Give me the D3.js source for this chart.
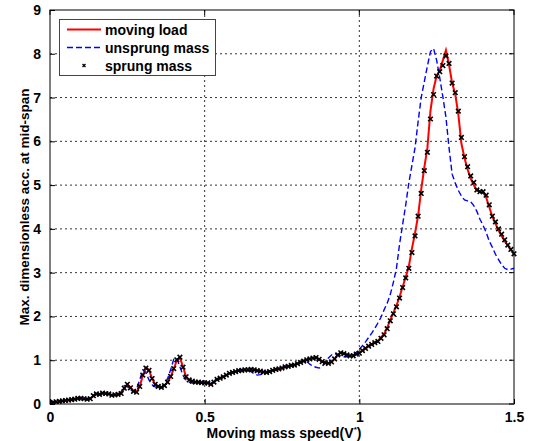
<!DOCTYPE html>
<html>
<head>
<meta charset="utf-8">
<script src="https://cdn.jsdelivr.net/npm/d3@7"></script>
<style>
  html, body { margin: 0; padding: 0; background: #fff; }
  svg { display: block; font-family: "Liberation Sans", Arial, sans-serif; }
</style>
</head>
<body>
<svg id="chart" width="541" height="441"></svg>
<script>
// ---- data ----
const speed = [
  0.00,0.01,0.02,0.03,0.04,0.05,0.06,0.07,0.08,0.09,
  0.10,0.11,0.12,0.13,0.14,0.15,0.16,0.17,0.18,0.19,
  0.20,0.21,0.22,0.23,0.24,0.25,0.26,0.27,0.28,0.29,
  0.30,0.31,0.32,0.33,0.34,0.35,0.36,0.37,0.38,0.39,
  0.40,0.41,0.42,0.43,0.44,0.45,0.46,0.47,0.48,0.49,
  0.50,0.51,0.52,0.53,0.54,0.55,0.56,0.57,0.58,0.59,
  0.60,0.61,0.62,0.63,0.64,0.65,0.66,0.67,0.68,0.69,
  0.70,0.71,0.72,0.73,0.74,0.75,0.76,0.77,0.78,0.79,
  0.80,0.81,0.82,0.83,0.84,0.85,0.86,0.87,0.88,0.89,
  0.90,0.91,0.92,0.93,0.94,0.95,0.96,0.97,0.98,0.99,
  1.00,1.01,1.02,1.03,1.04,1.05,1.06,1.07,1.08,1.09,
  1.10,1.11,1.12,1.13,1.14,1.15,1.16,1.17,1.18,1.19,
  1.20,1.21,1.22,1.23,1.24,1.25,1.26,1.27,1.28,1.29,
  1.30,1.31,1.32,1.33,1.34,1.35,1.36,1.37,1.38,1.39,
  1.40,1.41,1.42,1.43,1.44,1.45,1.46,1.47,1.48,1.49,
  1.50
];

const movingLoad = [
  0.03,0.04,0.05,0.06,0.07,0.08,0.09,0.10,0.11,0.13,
  0.13,0.12,0.11,0.12,0.18,0.23,0.22,0.25,0.24,0.23,
  0.20,0.21,0.22,0.24,0.35,0.45,0.38,0.30,0.28,0.40,
  0.65,0.83,0.78,0.58,0.45,0.40,0.38,0.42,0.50,0.62,
  0.80,1.00,1.06,0.85,0.62,0.55,0.52,0.50,0.50,0.49,
  0.48,0.48,0.45,0.50,0.56,0.59,0.62,0.66,0.70,0.72,
  0.74,0.76,0.77,0.78,0.78,0.79,0.78,0.76,0.75,0.73,
  0.72,0.74,0.77,0.79,0.80,0.82,0.85,0.86,0.88,0.89,
  0.92,0.95,0.98,1.01,1.03,1.05,1.06,1.02,0.97,0.94,
  0.93,0.96,1.03,1.12,1.17,1.15,1.12,1.10,1.10,1.14,
  1.17,1.22,1.28,1.33,1.37,1.40,1.44,1.52,1.60,1.74,
  1.92,2.08,2.25,2.45,2.68,2.90,3.14,3.55,3.90,4.30,
  4.90,5.40,5.85,6.70,7.20,7.50,7.62,7.85,8.08,7.75,
  7.33,7.08,6.62,5.95,5.62,5.36,5.15,5.00,4.88,4.85,
  4.83,4.72,4.50,4.28,4.12,3.97,3.84,3.72,3.62,3.52,
  3.42
];

const unsprungMass = [
  0.03,0.04,0.05,0.06,0.07,0.08,0.09,0.10,0.11,0.12,
  0.14,0.12,0.11,0.14,0.20,0.24,0.22,0.24,0.24,0.22,
  0.20,0.21,0.22,0.28,0.42,0.40,0.32,0.28,0.35,0.55,
  0.78,0.72,0.55,0.44,0.39,0.37,0.38,0.45,0.58,0.78,
  1.02,1.05,0.85,0.65,0.55,0.50,0.48,0.47,0.48,0.48,
  0.48,0.47,0.47,0.53,0.58,0.61,0.63,0.66,0.69,0.72,
  0.74,0.75,0.76,0.77,0.77,0.74,0.69,0.66,0.67,0.71,
  0.74,0.76,0.77,0.78,0.80,0.83,0.86,0.88,0.89,0.90,
  0.93,0.97,1.00,0.97,0.91,0.86,0.84,0.82,0.86,0.95,
  1.05,1.12,1.15,1.13,1.10,1.08,1.08,1.09,1.12,1.18,
  1.25,1.33,1.42,1.52,1.62,1.73,1.85,1.98,2.15,2.30,
  2.50,2.78,3.10,3.65,4.10,4.55,5.05,5.45,5.85,6.45,
  7.00,7.36,7.72,8.05,8.12,7.85,7.45,7.02,6.55,5.85,
  5.25,5.05,4.88,4.75,4.66,4.64,4.62,4.53,4.40,4.22,
  4.08,3.92,3.72,3.58,3.42,3.30,3.18,3.10,3.07,3.08,
  3.10
];

const sprungMass = [
  0.03,0.04,0.05,0.06,0.07,0.08,0.09,0.10,0.11,0.13,
  0.13,0.12,0.11,0.12,0.19,0.23,0.22,0.25,0.24,0.23,
  0.20,0.21,0.22,0.24,0.36,0.45,0.37,0.29,0.27,0.40,
  0.66,0.82,0.77,0.58,0.45,0.40,0.38,0.42,0.50,0.63,
  0.81,1.01,1.07,0.84,0.62,0.55,0.52,0.50,0.50,0.49,
  0.48,0.48,0.45,0.50,0.56,0.59,0.62,0.66,0.70,0.72,
  0.74,0.76,0.77,0.78,0.78,0.79,0.78,0.76,0.75,0.73,
  0.72,0.74,0.77,0.79,0.80,0.82,0.85,0.86,0.88,0.89,
  0.92,0.95,0.98,1.01,1.03,1.05,1.06,1.02,0.97,0.94,
  0.93,0.96,1.03,1.12,1.17,1.15,1.12,1.10,1.10,1.14,
  1.16,1.22,1.27,1.32,1.36,1.40,1.43,1.50,1.58,1.72,
  1.90,2.06,2.22,2.42,2.66,2.88,3.10,3.46,3.84,4.29,
  4.81,5.33,5.75,6.51,7.07,7.49,7.59,7.73,7.95,7.78,
  7.33,7.11,6.69,6.09,5.65,5.42,5.21,5.06,4.89,4.85,
  4.85,4.77,4.55,4.29,4.16,4.00,3.88,3.75,3.63,3.53,
  3.43
];

const xTickValues = [0, 0.5, 1, 1.5];
const xTickLabels = ["0", "0.5", "1", "1.5"];
const yTickValues = [0, 1, 2, 3, 4, 5, 6, 7, 8, 9];
const yTickLabels = ["0", "1", "2", "3", "4", "5", "6", "7", "8", "9"];

const seriesNames = ["moving load", "unsprung mass", "sprung mass"];
const xTitle = "Moving mass speed(V";
const yTitle = "Max. dimensionless acc. at mid-span";

// ---- layout ----
const svg = d3.select("#chart");
const pL = 50, pR = 514, pT = 10, pB = 404;

const x = d3.scaleLinear().domain([0, 1.5]).range([pL, pR]);
const y = d3.scaleLinear().domain([0, 9]).range([pB, pT]);

// grid
const grid = svg.append("g").attr("stroke", "#000").attr("stroke-width", 0.8)
  .attr("stroke-dasharray", "2,3");
grid.selectAll("line.gx").data(xTickValues.filter(v => v > 0 && v < 1.5)).join("line")
  .attr("class", "gx")
  .attr("x1", d => x(d)).attr("x2", d => x(d)).attr("y1", pT).attr("y2", pB);
grid.selectAll("line.gy").data(yTickValues.filter(v => v > 0 && v < 9)).join("line")
  .attr("class", "gy")
  .attr("x1", pL).attr("x2", pR).attr("y1", d => y(d)).attr("y2", d => y(d));

// clip
svg.append("clipPath").attr("id", "clip").append("rect")
  .attr("x", pL).attr("y", pT - 3).attr("width", pR - pL + 3).attr("height", pB - pT + 3);

const data = speed.map((v, i) => ({ v, a: movingLoad[i], b: unsprungMass[i], c: sprungMass[i] }));

const plot = svg.append("g").attr("clip-path", "url(#clip)");

plot.append("path").datum(data)
  .attr("fill", "none").attr("stroke", "#ff0000").attr("stroke-width", 2)
  .attr("d", d3.line().x(d => x(d.v)).y(d => y(d.a)));

plot.append("path").datum(data)
  .attr("fill", "none").attr("stroke", "#0000ff").attr("stroke-width", 1.4)
  .attr("stroke-dasharray", "6,3")
  .attr("d", d3.line().x(d => x(d.v)).y(d => y(d.b)));

const xMark = "M-2.3,-2.3L2.3,2.3M-2.3,2.3L2.3,-2.3";
plot.selectAll("path.mk").data(data).join("path")
  .attr("class", "mk")
  .attr("transform", d => `translate(${x(d.v)},${y(d.c)})`)
  .attr("d", xMark).attr("stroke", "#000").attr("stroke-width", 1.6).attr("fill", "none");

// axes
const xAxis = d3.axisBottom(x).tickValues(xTickValues)
  .tickFormat((d, i) => xTickLabels[i]).tickSizeInner(-5).tickSizeOuter(0).tickPadding(8);
const yAxis = d3.axisLeft(y).tickValues(yTickValues)
  .tickFormat((d, i) => yTickLabels[i]).tickSizeInner(-5).tickSizeOuter(0).tickPadding(9);

const gx = svg.append("g").attr("transform", `translate(0,${pB})`).call(xAxis);
const gy = svg.append("g").attr("transform", `translate(${pL},0)`).call(yAxis);
[gx, gy].forEach(g => {
  g.select(".domain").remove();
  g.selectAll(".tick line").attr("stroke", "#000");
  g.selectAll(".tick text").attr("font-size", 14).attr("font-weight", "bold")
    .attr("fill", "#000").attr("font-family", "Liberation Sans, Arial, sans-serif");
});
// top/right ticks
svg.append("g").selectAll("line").data(yTickValues).join("line")
  .attr("x1", pR).attr("x2", pR - 5).attr("y1", d => y(d)).attr("y2", d => y(d))
  .attr("stroke", "#000");
svg.append("g").selectAll("line").data(xTickValues).join("line")
  .attr("x1", d => x(d)).attr("x2", d => x(d)).attr("y1", pT).attr("y2", pT + 5)
  .attr("stroke", "#000");

// box
svg.append("rect").attr("x", pL).attr("y", pT).attr("width", pR - pL)
  .attr("height", pB - pT).attr("fill", "none").attr("stroke", "#000").attr("stroke-width", 1);

// titles
const xt = svg.append("text").attr("x", (pL + pR) / 2 + 2).attr("y", 438)
  .attr("text-anchor", "middle").attr("font-size", 14).attr("font-weight", "bold").attr("fill", "#000");
xt.append("tspan").text(xTitle);
xt.append("tspan").attr("dy", -6).attr("font-size", 8).text("*");
xt.append("tspan").attr("dy", 6).text(")");

svg.append("text")
  .attr("transform", `translate(25,${(pT + pB) / 2}) rotate(-90)`)
  .attr("text-anchor", "middle").attr("dominant-baseline", "middle")
  .attr("font-size", 13.5).attr("font-weight", "bold").attr("fill", "#000")
  .text(yTitle);

// legend
const lg = svg.append("g");
lg.append("rect").attr("x", 59.5).attr("y", 19.5).attr("width", 156).attr("height", 56)
  .attr("fill", "#fff").attr("stroke", "#444").attr("stroke-width", 1);
const rowsY = [29.5, 47.5, 65.5];
lg.append("line").attr("x1", 67).attr("x2", 101).attr("y1", rowsY[0]).attr("y2", rowsY[0])
  .attr("stroke", "#ff0000").attr("stroke-width", 2);
lg.append("line").attr("x1", 67).attr("x2", 101).attr("y1", rowsY[1]).attr("y2", rowsY[1])
  .attr("stroke", "#0000ff").attr("stroke-width", 1.4).attr("stroke-dasharray", "6,3");
lg.append("path").attr("transform", `translate(84,${rowsY[2]})`)
  .attr("d", "M-1.5,-1.5L1.5,1.5M-1.5,1.5L1.5,-1.5").attr("stroke", "#000").attr("stroke-width", 1.3);
lg.selectAll("text").data(seriesNames).join("text")
  .attr("x", 105).attr("y", (d, i) => rowsY[i]).attr("dominant-baseline", "central")
  .attr("font-size", 14).attr("font-weight", "bold").attr("fill", "#000")
  .text(d => d);
</script>
</body>
</html>
